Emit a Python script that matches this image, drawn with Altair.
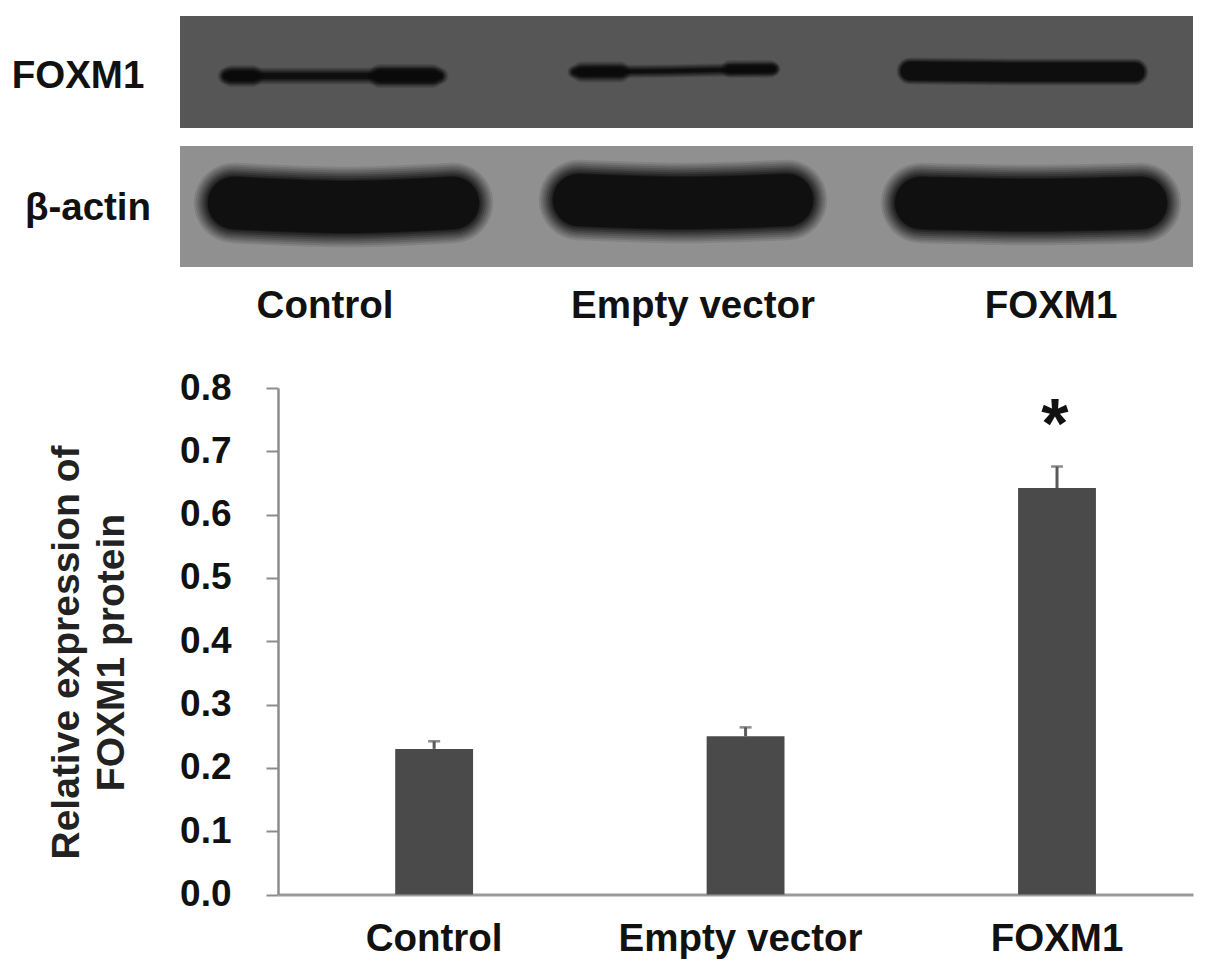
import altair as alt
import pandas as pd

FONT = "Liberation Sans"
INK = "#111111"

# Bar chart values
groups = ["Control", "Empty vector", "FOXM1"]
means = [0.23, 0.25, 0.642]
errors = [0.012, 0.014, 0.034]
star_value = [0.738]
y_ticks = [0.0, 0.1, 0.2, 0.3, 0.4, 0.5, 0.6, 0.7, 0.8]

# Blot strips (blot units)
strip_names = ["FOXM1", "beta-actin"]
strip_top = [16, 146]
strip_bottom = [128, 267]
strip_left = [0, 0]
strip_right = [1013, 1013]
strip_colors = ["#565656", "#909090"]

# Blot bands: centre line, thickness and softness
band_x = [
    [46, 150, 260],
    [394, 490, 594],
    [730, 840, 955],
    [54, 165, 273],
    [399, 500, 607],
    [741, 850, 961],
    [52, 72],
    [200, 252],
    [402, 440],
    [550, 590],
]
band_y = [
    [76, 76, 76],
    [72, 71, 69],
    [71, 72, 72],
    [203, 207, 203],
    [200, 203, 200],
    [203, 205, 203],
    [76, 76],
    [76, 76],
    [72, 72],
    [69, 69],
]
band_thick = [5, 3, 18, 52, 52, 52, 9, 12, 8, 6]
band_soft = [0.4, 0.35, 0.3, 0.95, 0.95, 0.95, 0.45, 0.4, 0.45, 0.4]

# Annotation text
strip_labels = ["FOXM1", "β-actin"]
strip_label_x = [-102, -92]
strip_label_y = [76, 208]
lane_labels = ["Control", "Empty vector", "FOXM1"]
lane_label_x = [145, 513, 871]
lane_label_y = [306, 306, 306]

x_blot = alt.Scale(domain=[0, 1013], range=[172, 1185])
y_page = alt.Scale(domain=[8, 971], range=[0, 963])

x_band = alt.Scale(
    domain=groups, range=[270, 1185],
    paddingInner=0.75, paddingOuter=0.344, align=0.547,
)
y_val = alt.Scale(domain=[0, 0.8], range=[886.5, 380], nice=False)

layers = []

strips = pd.DataFrame({
    "strip": strip_names, "x": strip_left, "x2": strip_right,
    "y": strip_top, "y2": strip_bottom, "color": strip_colors,
})
layers.append(
    alt.Chart(strips).mark_rect().encode(
        x=alt.X("x:Q", scale=x_blot, axis=None),
        x2="x2:Q",
        y=alt.Y("y:Q", scale=y_page, axis=None),
        y2="y2:Q",
        color=alt.Color("color:N", scale=None, legend=None),
    )
)

blur_grow = [15, 13, 11, 9, 7, 5, 3, 1, 0]
blur_op = [0.1, 0.12, 0.14, 0.16, 0.2, 0.25, 0.3, 0.45, 0.65]
for xs, ys, th, soft in zip(band_x, band_y, band_thick, band_soft):
    df = pd.DataFrame({"x": xs, "y": ys})
    for grow, op in zip(blur_grow, blur_op):
        layers.append(
            alt.Chart(df).mark_line(
                strokeCap="round", strokeJoin="round", interpolate="monotone",
                color="#0b0b0b", opacity=op,
                strokeWidth=max(th + grow * soft * 2, 1),
            ).encode(
                x=alt.X("x:Q", scale=x_blot, axis=None),
                y=alt.Y("y:Q", scale=y_page, axis=None),
            )
        )

labels = pd.DataFrame({
    "t": strip_labels + lane_labels,
    "x": strip_label_x + lane_label_x,
    "y": strip_label_y + lane_label_y,
})
layers.append(
    alt.Chart(labels).mark_text(
        font=FONT, fontSize=38.5, fontWeight="bold", color=INK, align="center", baseline="middle",
    ).encode(
        x=alt.X("x:Q", scale=alt.Scale(domain=[-172, 1017], range=[0, 1189]), axis=None),
        y=alt.Y("y:Q", scale=y_page, axis=None),
        text="t:N",
    )
)

bars_df = pd.DataFrame({"g": groups, "m": means, "e": errors})
bars_df["top"] = bars_df.m + bars_df.e

bar = alt.Chart(bars_df).mark_bar(color="#4a4a4a").encode(
    x=alt.X("g:N", scale=x_band, sort=groups, title=None, axis=alt.Axis(
        orient="bottom", offset=-76.5, domainColor="#9a9a9a", domainWidth=3, ticks=False,
        labelAngle=0, labelFont=FONT, labelFontSize=38.5, labelFontWeight="bold", labelColor=INK,
        labelPadding=26, labelLimit=400,
        labelOffset=alt.expr("datum.value == 'Empty vector' ? -5 : 0"),
    )),
    y=alt.Y("m:Q", scale=y_val, axis=alt.Axis(
        orient="left", offset=-270, values=y_ticks, format=".1f",
        domainColor="#8c8c8c", domainWidth=2.5, tickColor="#8c8c8c", tickWidth=2, tickSize=12,
        labelFont=FONT, labelFontSize=37, labelFontWeight="bold", labelColor=INK, labelPadding=35,
        grid=False,
        title=["Relative expression of", "FOXM1 protein"],
        titleFont=FONT, titleFontSize=39, titleFontWeight="bold", titleColor="#222222",
        titleLineHeight=45, titleX=-192, titleY=644, titleAngle=-90, titleAlign="center",
    )),
)
err = alt.Chart(bars_df).mark_rule(color="#5a5a5a", strokeWidth=3).encode(
    x=alt.X("g:N", scale=x_band, sort=groups, axis=None),
    y=alt.Y("m:Q", scale=y_val, axis=None),
    y2="top:Q",
)
cap = alt.Chart(bars_df).mark_tick(color="#5a5a5a", thickness=2.5, size=12).encode(
    x=alt.X("g:N", scale=x_band, sort=groups, axis=None),
    y=alt.Y("top:Q", scale=y_val, axis=None),
)
star = alt.Chart(pd.DataFrame({"g": ["FOXM1"], "v": star_value})).mark_text(
    text="*", font=FONT, fontSize=70, fontWeight="bold", color=INK, baseline="middle",
).encode(
    x=alt.X("g:N", scale=x_band, sort=groups, axis=None),
    y=alt.Y("v:Q", scale=y_val, axis=None),
)
layers += [bar, err, cap, star]

chart = (
    alt.layer(*layers)
    .resolve_scale(x="independent", y="independent")
    .resolve_axis(x="independent", y="independent")
    .properties(width=1189, height=963, padding=0, background="white",
                autosize=alt.AutoSizeParams(type="none"))
    .configure_view(stroke=None, strokeWidth=0)
)

chart.save("out.html", embed_options={"renderer": "svg", "actions": False})
